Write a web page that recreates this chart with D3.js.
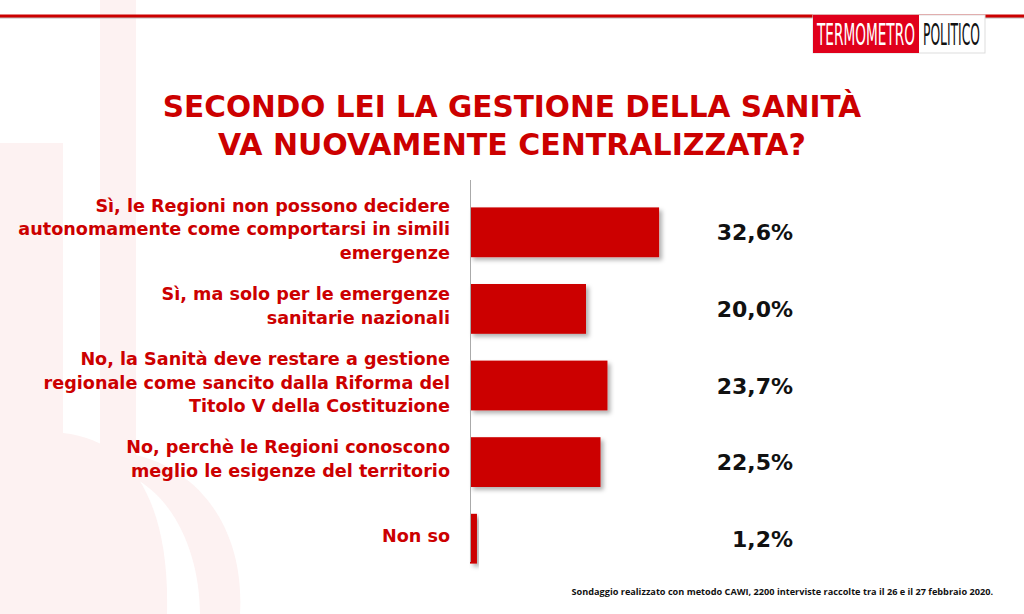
<!DOCTYPE html>
<html><head><meta charset="utf-8">
<script src="https://cdn.jsdelivr.net/npm/d3@7/dist/d3.min.js"></script>
<style>html,body{margin:0;padding:0;background:#fff;}svg{display:block;}</style>
</head><body>
<svg id="chart" width="1024" height="614"></svg>
<script>
const categories = [
  ["Sì, le Regioni non possono decidere", "autonomamente come comportarsi in simili", "emergenze"],
  ["Sì, ma solo per le emergenze", "sanitarie nazionali"],
  ["No, la Sanità  deve restare a gestione", "regionale come sancito dalla Riforma del", "Titolo V della Costituzione"],
  ["No, perchè le Regioni conoscono", "meglio le esigenze del territorio"],
  ["Non so"]
];
const values = [32.6, 20.0, 23.7, 22.5, 1.2];
const valueLabels = ["32,6%", "20,0%", "23,7%", "22,5%", "1,2%"];
const titleLines = ["SECONDO LEI LA GESTIONE DELLA SANITÀ", "VA NUOVAMENTE CENTRALIZZATA?"];
const footer = "Sondaggio realizzato con metodo CAWI, 2200 interviste raccolte tra il 26 e il 27 febbraio 2020.";

const RED = "#cc0000";
const svg = d3.select("#chart");
const defs = svg.append("defs");
const f = defs.append("filter").attr("id","shadow").attr("x","-10%").attr("y","-20%").attr("width","130%").attr("height","150%");
f.append("feDropShadow").attr("dx",3).attr("dy",3).attr("stdDeviation",2).attr("flood-color","#000").attr("flood-opacity",0.3);

// faint watermark
const wm = svg.append("g").attr("fill","#fdf2f2");
wm.append("rect").attr("x",0).attr("y",143).attr("width",63).attr("height",471);
wm.append("rect").attr("x",100).attr("y",0).attr("width",36).attr("height",440);
wm.append("path").attr("d","M0,433 L63,433 C130,440 170,500 167,614 L0,614 Z");
wm.append("path").attr("d","M100,440 L136,440 L136,455 C200,470 245,530 240,614 L200,614 C200,540 160,470 100,470 Z");

// top rule
svg.append("rect").attr("x",0).attr("y",17).attr("width",1024).attr("height",1.5).attr("fill","#bbb");
svg.append("rect").attr("x",0).attr("y",14.5).attr("width",1024).attr("height",3).attr("fill",RED);

// logo
const logo = svg.append("g");
logo.append("rect").attr("x",813).attr("y",15).attr("width",172).attr("height",38).attr("fill","#fff").attr("stroke","#ddd");
logo.append("rect").attr("x",813).attr("y",15).attr("width",106).attr("height",38).attr("fill","#e0001b");
function squeezed(txt, x0, width, color){
  const g = logo.append("g");
  const t = g.append("text").attr("x",0).attr("y",0)
    .attr("font-family","'Liberation Sans Narrow','DejaVu Sans Condensed',sans-serif")
    .attr("font-size",31).attr("fill",color).text(txt);
  const w = t.node().getComputedTextLength();
  g.attr("transform",`translate(${x0},45) scale(${width/w},1)`);
}
squeezed("TERMOMETRO", 817, 98, "#fff");
squeezed("POLITICO", 923, 57, "#111");

// title
svg.append("g").selectAll("text").data(titleLines).join("text")
  .attr("x",512).attr("y",(d,i)=>117+i*38).attr("text-anchor","middle")
  .attr("font-family","'DejaVu Sans',sans-serif").attr("font-weight","bold").attr("font-size",29)
  .attr("fill",RED).text(d=>d)
  .each(function(){ const w=this.getComputedTextLength(); const target = this.textContent.length>30?699:588; this.setAttribute("font-size", 29*target/w); });

// scales
const idx = d3.range(values.length);
const y = d3.scaleBand().domain(idx).range([194,577]).paddingInner(0.35).paddingOuter(0.175);
const x = d3.scaleLinear().domain([0,35]).range([470,673]);

// bars
svg.append("g").selectAll("rect").data(values).join("rect")
  .attr("x",x(0)).attr("y",(d,i)=>y(i)).attr("width",d=>x(d)-x(0)).attr("height",y.bandwidth())
  .attr("fill",RED).attr("filter","url(#shadow)");

// axis line
svg.append("line").attr("x1",470.5).attr("x2",470.5).attr("y1",180).attr("y2",562).attr("stroke","#aaa").attr("stroke-width",1);

// category labels
const lg = svg.append("g");
const labelTexts = [];
categories.forEach((lines,i)=>{
  const cy = y(i)+y.bandwidth()/2 - 3;
  const lh = 23.5;
  lines.forEach((ln,j)=>{
    labelTexts.push(lg.append("text").attr("x",450).attr("y",cy + (j-(lines.length-1)/2)*lh + 6)
      .attr("text-anchor","end").attr("font-family","'DejaVu Sans',sans-serif").attr("font-weight","bold")
      .attr("font-size",16).attr("fill",RED).text(ln));
  });
});
const widest = d3.max(labelTexts, t => t.node().getComputedTextLength());
const fs = 16*432/widest;
labelTexts.forEach(t => t.attr("font-size", fs));

// value labels
svg.append("g").selectAll("text").data(valueLabels).join("text")
  .attr("x",793).attr("y",(d,i)=>y(i)+y.bandwidth()/2+8).attr("text-anchor","end")
  .attr("font-family","'DejaVu Sans',sans-serif").attr("font-weight","bold").attr("font-size",22)
  .attr("fill","#111").text(d=>d);

// footer
svg.append("text").attr("x",993).attr("y",595).attr("text-anchor","end")
  .attr("font-family","'Open Sans',sans-serif").attr("font-weight","bold").attr("font-size",9.5)
  .attr("fill","#111").text(footer)
  .each(function(){ const w=this.getComputedTextLength(); this.setAttribute("font-size", 9.5*422/w); });
</script>
</body></html>
